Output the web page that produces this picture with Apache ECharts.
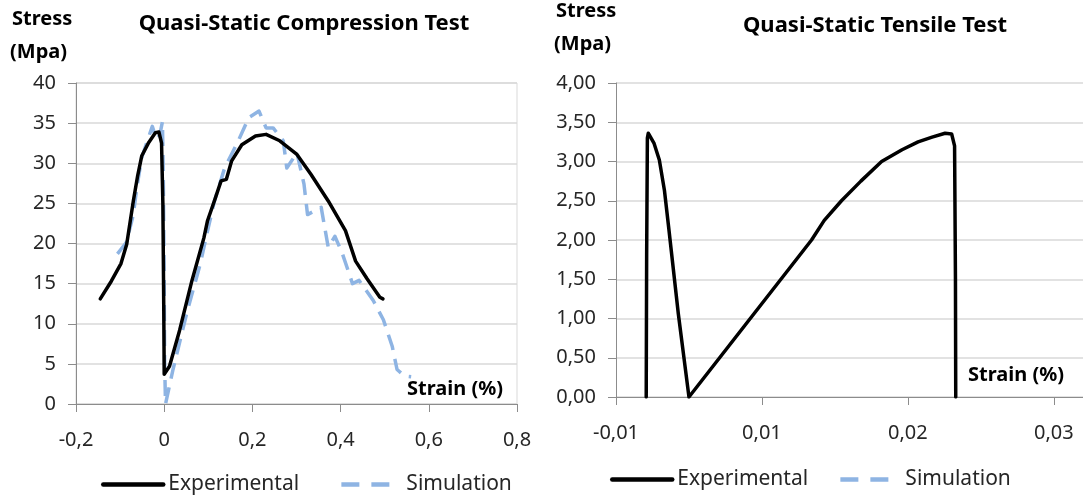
<!DOCTYPE html>
<html>
<head>
<meta charset="utf-8">
<script src="https://cdn.jsdelivr.net/npm/echarts@6/dist/echarts.min.js"></script>
<style>html,body{margin:0;padding:0;background:#fff}#c{width:1083px;height:497px}</style>
</head>
<body>
<div id="c"></div>
<script>
// ---------- Data (strain %, stress MPa) ----------
const compressionExperimental = [
  [-0.145, 13.1], [-0.120, 15.3], [-0.098, 17.5], [-0.085, 19.9], [-0.070, 25.3],
  [-0.060, 28.5], [-0.051, 30.9], [-0.035, 32.6], [-0.020, 33.8], [-0.012, 33.9],
  [-0.006, 32.5], [-0.003, 25.0], [-0.001, 12.0], [0.000, 3.7], [0.012, 4.7],
  [0.035, 9.2], [0.063, 15.4], [0.090, 20.7], [0.098, 22.8], [0.115, 25.5],
  [0.129, 27.8], [0.141, 28.0], [0.153, 30.3], [0.176, 32.3], [0.207, 33.4],
  [0.231, 33.6], [0.262, 32.8], [0.301, 31.1], [0.333, 28.6], [0.372, 25.3],
  [0.411, 21.6], [0.434, 17.8], [0.460, 15.6], [0.489, 13.3], [0.496, 13.1]
];
const compressionSimulation = [
  [-0.106, 18.7], [-0.086, 20.1], [-0.070, 23.6], [-0.062, 27.0], [-0.051, 30.7],
  [-0.040, 32.5], [-0.027, 34.6], [-0.018, 33.0], [-0.010, 33.5], [-0.004, 35.2],
  [-0.002, 28.0], [0.000, 15.0], [0.001, 5.0], [0.003, 0.0], [0.020, 4.3],
  [0.051, 11.3], [0.082, 17.5], [0.098, 21.5], [0.114, 25.3], [0.137, 29.4],
  [0.168, 32.8], [0.192, 35.7], [0.215, 36.5], [0.231, 34.4], [0.247, 34.4],
  [0.270, 32.8], [0.278, 29.4], [0.301, 31.3], [0.317, 27.4], [0.325, 23.6],
  [0.356, 24.5], [0.372, 19.5], [0.387, 20.9], [0.403, 18.9], [0.427, 15.0],
  [0.442, 15.4], [0.474, 12.9], [0.497, 10.5], [0.517, 7.2], [0.528, 4.3],
  [0.545, 3.5], [0.560, 3.4]
];
const tensileExperimental = [
  [-0.00293, 0.00], [-0.00290, 1.80], [-0.00285, 3.30], [-0.00279, 3.36],
  [-0.00239, 3.23], [-0.00203, 3.02], [-0.00168, 2.63], [-0.00139, 2.16],
  [-0.00073, 1.06], [0.00000, 0.00], [0.00840, 2.00], [0.00927, 2.25],
  [0.01045, 2.50], [0.01178, 2.75], [0.01320, 3.00], [0.01460, 3.15],
  [0.01570, 3.25], [0.01666, 3.31], [0.01755, 3.36], [0.01800, 3.35],
  [0.01820, 3.20], [0.01826, 1.50], [0.01828, 0.00]
];
const tensileSimulation = [];

const compressionXTicks = ['-0,2', '0', '0,2', '0,4', '0,6', '0,8'];
const tensileXTicks = ['-0,01', '0,01', '0,02', '0,03'];
const seriesNames = ['Experimental', 'Simulation'];

// ---------- Styles ----------
const FONT = '"Noto Sans", "Open Sans", sans-serif';
const GRID_COLOR = '#D9D9D9';
const AXIS_COLOR = '#8C8C8C';
const LABEL_COLOR = '#262626';
const EXP_COLOR = '#000000';
const SIM_COLOR = '#8EB4E3';

function tickIndex(v, min, step) { return Math.round((v - min) / step); }

const chart = echarts.init(document.getElementById('c'), null, {renderer: 'canvas'});

const axisLabelBase = {color: LABEL_COLOR, fontFamily: FONT, fontSize: 20};

const legendItems = [
  {name: seriesNames[0]},
  {name: seriesNames[1], lineStyle: {type: [18, 12]}}
];
const legendBase = {
  itemWidth: 60, itemHeight: 14,
  itemStyle: {opacity: 0},
  lineStyle: {width: 4.5},
  textStyle: {fontFamily: FONT, fontSize: 21, color: LABEL_COLOR},
  selectedMode: false
};

const option = {
  animation: false,
  backgroundColor: '#ffffff',
  grid: [
    {left: 76, top: 83, width: 441, height: 321, show: true, borderColor: GRID_COLOR, borderWidth: 1, backgroundColor: 'transparent'},
    {left: 616, top: 83, width: 469, height: 314}
  ],
  xAxis: [
    {
      gridIndex: 0, type: 'value', min: -0.2, max: 0.8, interval: 0.2,
      axisLine: {show: true, onZero: false, lineStyle: {color: AXIS_COLOR, width: 1}},
      axisTick: {show: true, length: 8, lineStyle: {color: AXIS_COLOR}},
      splitLine: {show: false},
      axisLabel: Object.assign({}, axisLabelBase, {margin: 26,
        formatter: v => compressionXTicks[tickIndex(v, -0.2, 0.2)] ?? ''})
    },
    {
      gridIndex: 1, type: 'value', min: -0.005, max: 0.027, interval: 0.01,
      axisLine: {show: true, onZero: false, lineStyle: {color: AXIS_COLOR, width: 1}},
      axisTick: {show: true, length: 8, lineStyle: {color: AXIS_COLOR}},
      splitLine: {show: false},
      axisLabel: Object.assign({}, axisLabelBase, {margin: 26, showMaxLabel: false,
        formatter: v => {
          const i = tickIndex(v, -0.005, 0.01);
          return Math.abs(-0.005 + i * 0.01 - v) < 1e-6 ? (tensileXTicks[i] ?? '') : '';
        }})
    }
  ],
  yAxis: [
    {
      gridIndex: 0, type: 'value', min: 0, max: 40, interval: 5,
      axisLine: {show: true, onZero: false, lineStyle: {color: AXIS_COLOR, width: 1}},
      axisTick: {show: true, length: 8, lineStyle: {color: AXIS_COLOR}},
      splitLine: {show: true, lineStyle: {color: GRID_COLOR, width: 1.5}},
      axisLabel: Object.assign({}, axisLabelBase, {margin: 20})
    },
    {
      gridIndex: 1, type: 'value', min: 0, max: 4, interval: 0.5,
      axisLine: {show: true, onZero: false, lineStyle: {color: AXIS_COLOR, width: 1}},
      axisTick: {show: true, length: 8, lineStyle: {color: AXIS_COLOR}},
      splitLine: {show: true, lineStyle: {color: GRID_COLOR, width: 1.5}},
      axisLabel: Object.assign({}, axisLabelBase, {margin: 20,
        formatter: v => v.toFixed(2).replace('.', ',')})
    }
  ],
  legend: [
    Object.assign({data: legendItems, left: 96, top: 469, itemGap: 40}, legendBase),
    Object.assign({data: legendItems, left: 605, top: 464, itemGap: 30}, legendBase)
  ],
  series: [
    {
      name: seriesNames[1], type: 'line', xAxisIndex: 0, yAxisIndex: 0, data: compressionSimulation,
      symbol: 'none', z: 2,
      lineStyle: {color: SIM_COLOR, width: 3.5, type: [16, 9], cap: 'butt', join: 'round'},
      itemStyle: {color: SIM_COLOR}
    },
    {
      name: seriesNames[0], type: 'line', xAxisIndex: 0, yAxisIndex: 0, data: compressionExperimental,
      symbol: 'none', z: 3,
      lineStyle: {color: EXP_COLOR, width: 3.5, join: 'round', cap: 'round'},
      itemStyle: {color: EXP_COLOR}
    },
    {
      name: seriesNames[0], type: 'line', xAxisIndex: 1, yAxisIndex: 1, data: tensileExperimental,
      symbol: 'none', z: 3,
      lineStyle: {color: EXP_COLOR, width: 3.5, join: 'round', cap: 'round'},
      itemStyle: {color: EXP_COLOR}
    },
    {
      name: seriesNames[1], type: 'line', xAxisIndex: 1, yAxisIndex: 1, data: tensileSimulation,
      symbol: 'none', z: 2,
      lineStyle: {color: SIM_COLOR, width: 3.5, type: [16, 9]},
      itemStyle: {color: SIM_COLOR}
    }
  ],
  graphic: [
    {type: 'text', x: 12, y: 9, style: {text: 'Stress', font: 'bold 20px ' + FONT, fill: '#000'}},
    {type: 'text', x: 10, y: 42, style: {text: '(Mpa)', font: 'bold 20px ' + FONT, fill: '#000'}},
    {type: 'text', x: 304, y: 24, style: {text: 'Quasi-Static Compression Test', font: 'bold 22px ' + FONT, fill: '#000', align: 'center', verticalAlign: 'middle'}},
    {type: 'text', x: 455, y: 389, style: {text: 'Strain (%)', font: 'bold 20px ' + FONT, fill: '#000', align: 'center', verticalAlign: 'middle'}},
    {type: 'text', x: 556, y: 1, style: {text: 'Stress', font: 'bold 20px ' + FONT, fill: '#000'}},
    {type: 'text', x: 554, y: 34, style: {text: '(Mpa)', font: 'bold 20px ' + FONT, fill: '#000'}},
    {type: 'text', x: 875, y: 26, style: {text: 'Quasi-Static Tensile Test', font: 'bold 22px ' + FONT, fill: '#000', align: 'center', verticalAlign: 'middle'}},
    {type: 'text', x: 1016, y: 375, style: {text: 'Strain (%)', font: 'bold 20px ' + FONT, fill: '#000', align: 'center', verticalAlign: 'middle'}}
  ]
};
chart.setOption(option);
</script>
</body>
</html>
